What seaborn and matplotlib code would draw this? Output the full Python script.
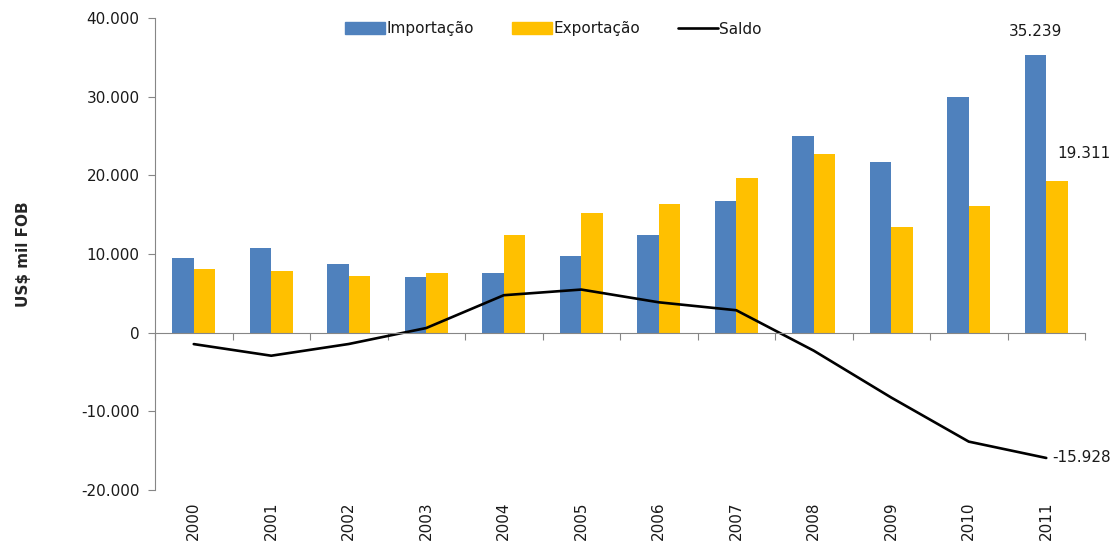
import numpy as np
import pandas as pd
import seaborn as sns
import matplotlib.pyplot as plt
from matplotlib.patches import Patch
from matplotlib.lines import Line2D
from matplotlib.ticker import FuncFormatter

# Data (US$ mil FOB)
anos = ['2000', '2001', '2002', '2003', '2004', '2005',
        '2006', '2007', '2008', '2009', '2010', '2011']
importacao = [9516, 10790, 8700, 7050, 7640, 9770, 12440, 16770, 25000, 21660, 29940, 35239]
exportacao = [8064, 7860, 7260, 7640, 12400, 15250, 16300, 19620, 22710, 13410, 16090, 19311]
saldo = [-1452, -2930, -1440, 590, 4760, 5480, 3860, 2850, -2290, -8250, -13850, -15928]

cor_imp = '#4F81BD'
cor_exp = '#FFC000'
cinza = '#868686'

sns.set_style('white')
plt.rcParams['font.family'] = ['DejaVu Sans']
plt.rcParams['text.color'] = '#1a1a1a'
plt.rcParams['xtick.color'] = '#1a1a1a'
plt.rcParams['ytick.color'] = '#1a1a1a'

df = pd.DataFrame({
    'Ano': anos * 2,
    'Valor': importacao + exportacao,
    'Serie': ['Importação'] * len(anos) + ['Exportação'] * len(anos),
})

fig = plt.figure(figsize=(11.18, 5.47), dpi=100)
ax = fig.add_axes([155 / 1118, 1 - 490 / 547, 930 / 1118, (490 - 18) / 547])

sns.barplot(data=df, x='Ano', y='Valor', hue='Serie', order=anos,
            palette=[cor_imp, cor_exp], saturation=1, width=0.56, linewidth=0,
            legend=False, ax=ax)

x_pos = np.arange(len(anos))
sns.lineplot(x=x_pos, y=saldo, color='black', linewidth=1.9, ax=ax)

ax.set_xlim(-0.5, len(anos) - 0.5)
ax.set_ylim(-20000, 40000)
ax.set_yticks(np.arange(-20000, 40001, 10000))
ax.yaxis.set_major_formatter(FuncFormatter(lambda v, p: f'{v:,.0f}'.replace(',', '.')))
ax.tick_params(axis='y', left=True, direction='out', length=5, color=cinza,
               labelsize=11, pad=6)

# x axis line sits at zero, with ticks at category boundaries
for s in ['top', 'right']:
    ax.spines[s].set_visible(False)
ax.spines['left'].set_color(cinza)
ax.spines['bottom'].set_color(cinza)
ax.spines['bottom'].set_position(('data', 0))
ax.set_xticks(np.arange(-0.5, len(anos)), labels=[''] * (len(anos) + 1))
ax.tick_params(axis='x', bottom=True, direction='out', length=5, color=cinza)
ax.set_xlabel('')

# year labels at the bottom
sec = ax.secondary_xaxis(0)
sec.set_xticks(x_pos, labels=anos)
sec.tick_params(length=0, labelsize=11, rotation=90, pad=8)
sec.spines['bottom'].set_visible(False)

ax.set_ylabel('US$ mil FOB', fontsize=11, fontweight='bold', labelpad=36)

# data labels
off = 0.14
ax.annotate('35.239', (11 - off, importacao[-1]), xytext=(0, 12),
            textcoords='offset points', ha='center', va='bottom', fontsize=11)
ax.annotate('19.311', (11 + off, exportacao[-1]), xytext=(0, 14),
            textcoords='offset points', ha='left', va='bottom', fontsize=11,
            annotation_clip=False)
ax.annotate('-15.928', (11, saldo[-1]), xytext=(4, 0),
            textcoords='offset points', ha='left', va='center', fontsize=11,
            annotation_clip=False)

handles = [Patch(color=cor_imp, label='Importação'),
           Patch(color=cor_exp, label='Exportação'),
           Line2D([], [], color='black', linewidth=1.9, label='Saldo')]
fig.legend(handles=handles, loc='center', bbox_to_anchor=(0.495, 1 - 29 / 547),
           ncol=3, frameon=False, fontsize=11, handlelength=2.6, handleheight=0.8,
           handletextpad=0.1, columnspacing=2.5)

fig.savefig('out.png', dpi=100)
